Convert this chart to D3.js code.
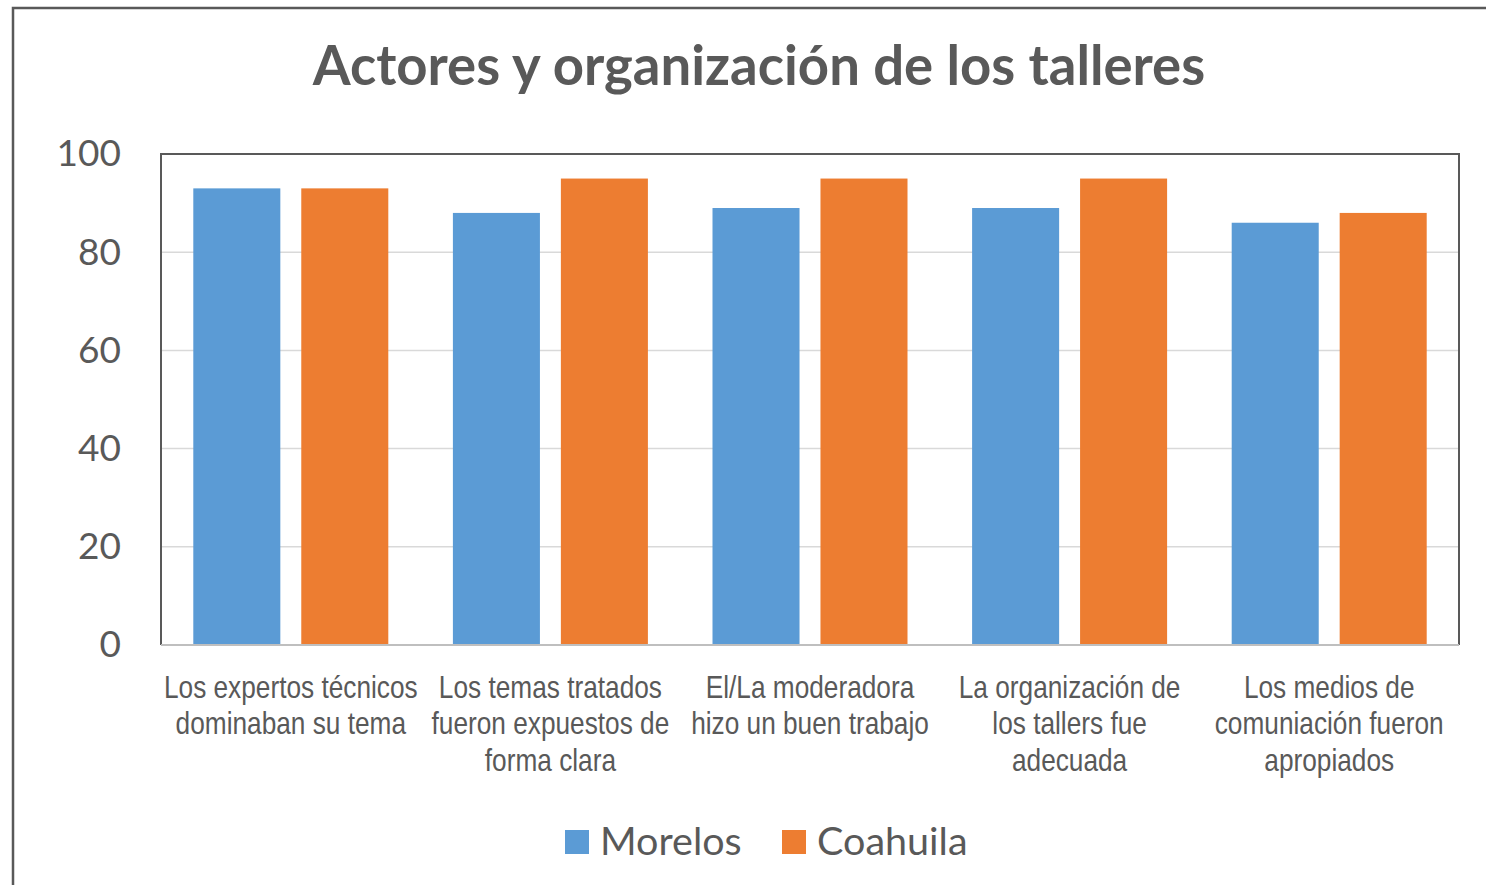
<!DOCTYPE html>
<html>
<head>
<meta charset="utf-8">
<script src="https://cdn.jsdelivr.net/npm/d3@7"></script>
<style>
  body { margin: 0; background: #fff; }
  svg { display: block; }
</style>
</head>
<body>
<div id="chart"></div>
<script>
// chart data
const categories = [
    ["Los expertos técnicos", "dominaban su tema"],
    ["Los temas tratados", "fueron expuestos de", "forma clara"],
    ["El/La moderadora", "hizo un buen trabajo"],
    ["La organización de", "los tallers fue", "adecuada"],
    ["Los medios de", "comuniación fueron", "apropiados"]
];
const seriesNames = ["Morelos", "Coahuila"];
const morelos = [93, 88, 89, 89, 86];
const coahuila = [93, 95, 95, 95, 88];
const yTicks = [0, 20, 40, 60, 80, 100];
const colors = ["#5b9bd5", "#ed7d31"];

const W = 1486, H = 885;
const margin = {top: 154, right: 27, bottom: 240, left: 161};
const width = W - margin.left - margin.right;
const height = H - margin.top - margin.bottom;

let svg = d3.select("#chart").append("svg")
    .attr("width", W)
    .attr("height", H);

// outer frame
svg.append("rect")
    .attr("x", 13).attr("y", 8)
    .attr("width", W + 20).attr("height", H + 20)
    .attr("fill", "none")
    .attr("stroke", "#595959")
    .attr("stroke-width", 2.5);

svg.append("text")
    .attr("x", 759)
    .attr("y", 85)
    .attr("text-anchor", "middle")
    .style("font-family", "Lato, 'Open Sans', sans-serif")
    .style("font-weight", "bold")
    .style("font-size", "54.5px")
    .style("fill", "#595959")
    .text("Actores y organización de los talleres");

let g = svg.append("g")
    .attr("transform", "translate(" + margin.left + "," + margin.top + ")");

let x0 = d3.scaleBand()
    .domain(d3.range(categories.length))
    .range([0, width]);

let x1 = d3.scaleBand()
    .domain([0, 1])
    .range([32.3, 227.3])
    .paddingInner(0.194);

let y = d3.scaleLinear()
    .domain([0, 100])
    .range([height, 0]);

// gridlines
g.selectAll(".grid")
    .data(yTicks.filter(d => d > 0 && d < 100))
    .enter().append("line")
    .attr("x1", 0).attr("x2", width)
    .attr("y1", d => y(d)).attr("y2", d => y(d))
    .attr("stroke", "#d9d9d9")
    .attr("stroke-width", 1.5);

// y axis labels
let yAxis = d3.axisLeft(y).tickValues(yTicks).tickSize(0).tickPadding(40);
let yg = g.append("g").call(yAxis);
yg.select(".domain").remove();
yg.selectAll("text")
    .style("font-family", "Lato, 'Open Sans', sans-serif")
    .style("font-size", "37px")
    .style("fill", "#595959");

// bars
let values = [morelos, coahuila];
values.forEach((vals, s) => {
    g.selectAll(".bar-" + s)
        .data(vals)
        .enter().append("rect")
        .attr("class", "bar-" + s)
        .attr("x", (d, i) => x0(i) + x1(s))
        .attr("y", d => y(d))
        .attr("width", x1.bandwidth())
        .attr("height", d => height - y(d))
        .attr("fill", colors[s]);
});

// plot border
g.append("path")
    .attr("d", "M0," + height + "V0H" + width + "V" + height)
    .attr("fill", "none")
    .attr("stroke", "#595959")
    .attr("stroke-width", 2);

g.append("line")
    .attr("x1", 0).attr("x2", width)
    .attr("y1", height).attr("y2", height)
    .attr("stroke", "#bfbfbf")
    .attr("stroke-width", 2);

// x labels (narrow font not installed, so squeeze Liberation Sans)
let xl = g.selectAll(".xlab")
    .data(categories)
    .enter().append("text")
    .attr("class", "xlab")
    .attr("text-anchor", "middle")
    .attr("transform", (d, i) => "translate(" + (x0(i) + x0.bandwidth() / 2) + ",0) scale(0.82,1)")
    .style("font-family", "'Liberation Sans', Arial, sans-serif")
    .style("font-size", "32px")
    .style("fill", "#595959");

xl.each(function(lines, i) {
    d3.select(this).selectAll("tspan")
        .data(lines)
        .enter().append("tspan")
        .attr("x", 0)
        .attr("y", (d, j) => height + 53 + j * 36.5)
        .text(d => d);
});

// legend
let legend = svg.append("g");
let legendX = [565, 782];
seriesNames.forEach((name, s) => {
    legend.append("rect")
        .attr("x", legendX[s]).attr("y", 830)
        .attr("width", 24).attr("height", 24)
        .attr("fill", colors[s]);
    legend.append("text")
        .attr("x", legendX[s] + 35)
        .attr("y", 855)
        .style("font-family", "Lato, 'Open Sans', sans-serif")
        .style("font-size", "39.5px")
        .style("fill", "#595959")
        .text(name);
});
</script>
</body>
</html>
